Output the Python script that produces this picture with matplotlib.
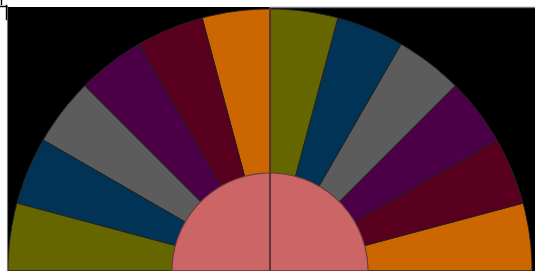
import numpy as np
import matplotlib
matplotlib.use("Agg")
import matplotlib.pyplot as plt

# outer ring: equal slices, counter-clockwise from 0 deg (only the top half is visible)
outer_labels = ["orange", "darkred", "purple", "gray", "navy", "olive"] * 4
outer_values = [1] * 24
palette = {"orange": "#CC6600", "darkred": "#58001E", "purple": "#4C0047",
           "gray": "#5C5C5C", "navy": "#003355", "olive": "#666600"}
outer_colors = [palette[l] for l in outer_labels]

# inner disc: two pink halves on the visible side
inner_values = [1, 1, 2]
inner_colors = ["#CC6666", "#CC6666", "#CC6666"]

fig = plt.figure(figsize=(5.35, 2.71), dpi=100, facecolor="white")
ax = fig.add_axes([7 / 535, 0, 528 / 535, 264 / 271])
ax.set_facecolor("black")

ax.pie(outer_values, colors=outer_colors, radius=262, startangle=0,
       counterclock=True, frame=True,
       wedgeprops=dict(edgecolor="#222222", linewidth=0.6))
ax.pie(inner_values, colors=inner_colors, radius=98, startangle=0,
       counterclock=True, frame=True,
       wedgeprops=dict(edgecolor="#6A3A3A", linewidth=0.8))
ax.plot([0, 0], [0, 264], color="#553333", lw=1.2)

ax.set_xlim(-263, 265)
ax.set_ylim(0, 264)
ax.set_aspect("auto")
ax.set_xticks([])
ax.set_yticks([])
for s in ax.spines.values():
    s.set_visible(False)

# thin grey frame bits and the small mark in the top-left corner
fig.add_artist(plt.Line2D([6.5 / 535, 6.5 / 535], [0, 1 - 6 / 271], color="#777777", lw=0.8))
fig.add_artist(plt.Line2D([270 / 535, 1], [1 - 6.5 / 271, 1 - 6.5 / 271], color="#777777", lw=1))
fig.add_artist(plt.Line2D([0, 6 / 535], [1 - 5.5 / 271, 1 - 5.5 / 271], color="black", lw=1))
fig.add_artist(plt.Line2D([5.5 / 535, 5.5 / 535], [1 - 5 / 271, 1 - 19 / 271], color="black", lw=1))
fig.add_artist(plt.Line2D([0.5 / 535, 0.5 / 535], [1, 1 - 4 / 271], color="black", lw=1))

fig.savefig("out.png", dpi=100, facecolor="white")
